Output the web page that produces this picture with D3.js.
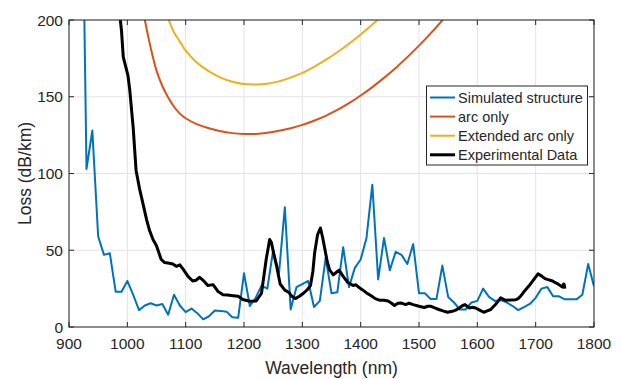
<!DOCTYPE html>
<html>
<head>
<meta charset="utf-8">
<script src="https://cdn.jsdelivr.net/npm/d3@7"></script>
<style>
  body { margin: 0; background: #fff; }
  svg { display: block; font-family: "Liberation Sans", Arial, sans-serif; }
</style>
</head>
<body>
<svg width="623" height="379"></svg>
<script>
// Simulated structure (sampled every 10 nm)
const simWl = [920, 930, 940, 950, 960, 970, 980, 990, 1000, 1010, 1020, 1030, 1040, 1050, 1060, 1070, 1080, 1090, 1100,
  1110, 1120, 1130, 1140, 1150, 1160, 1170, 1180, 1190, 1200, 1210, 1220, 1230, 1240, 1250, 1260, 1270, 1280, 1290, 1300,
  1310, 1320, 1330, 1340, 1350, 1360, 1370, 1380, 1390, 1400, 1410, 1420, 1430, 1440, 1450, 1460, 1470, 1480, 1490, 1500,
  1510, 1520, 1530, 1540, 1550, 1560, 1570, 1580, 1590, 1600, 1610, 1620, 1630, 1640, 1650, 1660, 1670, 1680, 1690, 1700,
  1710, 1720, 1730, 1740, 1750, 1760, 1770, 1780, 1790, 1800];
const simLoss = [370, 103, 128, 59, 47, 48, 23, 23, 30, 21, 11, 14, 15.5, 14, 15, 8, 21, 14, 9.7,
  12, 9, 5, 7, 10.8, 10.5, 10, 6.3, 6, 35, 13.7, 19, 27, 25, 50, 35, 78, 11.4, 26, 28,
  30, 13, 17, 45, 22, 22.6, 52, 26, 38.5, 44, 58, 92.7, 31, 58, 37, 49, 47, 41, 54, 22,
  22, 18.3, 18.3, 40, 19.6, 16, 11.4, 11.4, 16, 17, 25, 19.6, 17, 17.5, 16, 13.8, 11, 13, 15, 19,
  25, 26, 20, 20, 18, 18, 18, 21, 41, 26.5];

// arc only
const arcWl = [1010, 1020, 1030, 1040, 1050, 1060, 1070, 1080, 1090, 1100, 1120, 1140, 1160, 1180, 1200, 1220, 1240,
  1260, 1280, 1300, 1320, 1340, 1360, 1380, 1400, 1420, 1440, 1460, 1480, 1500, 1520, 1540, 1560];
const arcLoss = [250, 222, 200, 182, 167, 157, 149.5, 143.5, 139, 136, 132, 129.5, 127.5, 126.3, 125.8, 125.8, 126.5,
  127.8, 129.5, 131.7, 134.4, 137.6, 141.4, 145.8, 150.8, 156.3, 162.3, 168.8, 175.8, 183.3, 191.3, 199.8, 208.8];

// Extended arc only
const extWl = [1050, 1060, 1070, 1080, 1090, 1100, 1120, 1140, 1160, 1180, 1200, 1220, 1240, 1260, 1280, 1300,
  1320, 1340, 1360, 1380, 1400, 1420, 1440];
const extLoss = [232, 214, 201, 192, 186, 180, 172, 166.5, 162.5, 159.8, 158.3, 158, 158.5, 160, 162.5, 165.5,
  169.5, 174, 179, 184.5, 190.5, 197, 204];

// Experimental Data
const expWl = [986, 988, 990, 993, 1001, 1004, 1010, 1015, 1021, 1027, 1033, 1038, 1044, 1050, 1058, 1064, 1072,
  1078, 1084, 1090, 1095, 1104, 1112, 1118, 1124, 1130, 1138, 1147, 1155, 1164, 1172, 1181, 1190, 1198, 1210,
  1221, 1230, 1238, 1244, 1247, 1252, 1256, 1262, 1270, 1277, 1282, 1288, 1295, 1302, 1309, 1314, 1318, 1321,
  1326, 1331, 1335, 1338, 1343, 1347, 1353, 1358, 1363, 1370, 1378, 1387, 1392, 1398, 1404, 1410, 1418, 1425,
  1433, 1440, 1447, 1453, 1458, 1464, 1469, 1477, 1483, 1490, 1500, 1509, 1515, 1520, 1527, 1534, 1541, 1549,
  1557, 1563, 1569, 1575, 1579, 1586, 1591, 1597, 1604, 1611, 1617, 1623, 1631, 1636, 1640, 1645, 1649, 1658,
  1666, 1670, 1674, 1681, 1689, 1697, 1704, 1711, 1716, 1720, 1729, 1733, 1737, 1742, 1746, 1748, 1749, 1750];
const expLoss = [215, 200, 193, 176, 164, 155, 130, 102, 90, 80, 70, 63, 57, 53, 44, 42, 41.5,
  41, 39.5, 40.5, 38, 33, 30, 30.5, 32.4, 30.4, 27, 27.6, 23.3, 21, 20.8, 20.4, 20, 17.9, 16.8,
  17, 22, 44, 57, 55, 46, 39.5, 28, 24, 22.5, 20, 18.5, 20, 22, 24.5, 27, 36, 48,
  60, 64.5, 58, 52, 42, 37, 34, 35.5, 37, 33, 29, 27, 27.5, 25.5, 24, 22.2, 20.4, 18.5,
  17.4, 17.4, 16.9, 15.5, 14, 15.5, 15.7, 14.6, 15.5, 14.6, 13.5, 12.7, 13.5, 13.5, 12.5, 11.4, 10.5, 9.6,
  10.2, 11, 12.4, 14, 14.6, 12.4, 12.8, 12.4, 11, 9.6, 10.5, 11.4, 14.6, 17, 19, 18, 17.4, 17.6,
  17.8, 18.5, 20, 23.5, 27, 31, 34.6, 33, 31.5, 31, 30, 29, 28.3, 27, 26, 28, 27.6, 25];

const xTicks = [900, 1000, 1100, 1200, 1300, 1400, 1500, 1600, 1700, 1800];
const yTicks = [0, 50, 100, 150, 200];

const seriesNames = ["Simulated structure", "arc only", "Extended arc only", "Experimental Data"];
const seriesColors = ["#0072BD", "#D95319", "#EDB120", "#000000"];
const seriesWidths = [2, 2, 2, 3];

const margin = { top: 20, right: 29, bottom: 52, left: 69 };
const width = 623, height = 379;
const axisColor = "#262626";

const svg = d3.select("svg");

const x = d3.scaleLinear().domain([900, 1800]).range([margin.left, width - margin.right]);
const y = d3.scaleLinear().domain([0, 200]).range([height - margin.bottom, margin.top]);

const x0 = margin.left, x1 = width - margin.right;
const y0 = height - margin.bottom, y1 = margin.top;

// grid
const grid = svg.append("g").attr("stroke", "#e3e3e3").attr("stroke-width", 1);
grid.selectAll(".gx").data(xTicks).enter().append("line")
  .attr("x1", d => x(d)).attr("x2", d => x(d)).attr("y1", y0).attr("y2", y1);
grid.selectAll(".gy").data(yTicks).enter().append("line")
  .attr("x1", x0).attr("x2", x1).attr("y1", d => y(d)).attr("y2", d => y(d));

// data lines
svg.append("defs").append("clipPath").attr("id", "clip")
  .append("rect").attr("x", x0).attr("y", y1).attr("width", x1 - x0).attr("height", y0 - y1);

const plot = svg.append("g").attr("clip-path", "url(#clip)");
const line = d3.line().x(d => x(d[0])).y(d => y(d[1]));

const series = [
  d3.zip(simWl, simLoss),
  d3.zip(arcWl, arcLoss),
  d3.zip(extWl, extLoss),
  d3.zip(expWl, expLoss)
];
const smooth = d3.line().x(d => x(d[0])).y(d => y(d[1])).curve(d3.curveCatmullRom);

series.forEach((s, i) => {
  plot.append("path")
    .datum(s)
    .attr("fill", "none")
    .attr("stroke", seriesColors[i])
    .attr("stroke-width", seriesWidths[i])
    .attr("stroke-linejoin", "round")
    .attr("d", (i === 1 || i === 2) ? smooth : line);
});

// axes (MATLAB style box with inward ticks)
const tickLen = 5;
const axes = svg.append("g").attr("fill", "none").attr("stroke", axisColor).attr("stroke-width", 1);
axes.append("rect").attr("x", x0).attr("y", y1).attr("width", x1 - x0).attr("height", y0 - y1);
xTicks.forEach(t => {
  axes.append("line").attr("x1", x(t)).attr("x2", x(t)).attr("y1", y0).attr("y2", y0 - tickLen);
  axes.append("line").attr("x1", x(t)).attr("x2", x(t)).attr("y1", y1).attr("y2", y1 + tickLen);
});
yTicks.forEach(t => {
  axes.append("line").attr("x1", x0).attr("x2", x0 + tickLen).attr("y1", y(t)).attr("y2", y(t));
  axes.append("line").attr("x1", x1).attr("x2", x1 - tickLen).attr("y1", y(t)).attr("y2", y(t));
});

svg.append("g").selectAll("text").data(xTicks).enter().append("text")
  .attr("x", d => x(d)).attr("y", y0 + 22)
  .attr("text-anchor", "middle")
  .attr("font-size", 15.5).attr("fill", axisColor)
  .text(d => d);

svg.append("g").selectAll("text").data(yTicks).enter().append("text")
  .attr("x", x0 - 6).attr("y", d => y(d) + 5.5)
  .attr("text-anchor", "end")
  .attr("font-size", 15.5).attr("fill", axisColor)
  .text(d => d);

svg.append("text")
  .attr("x", (x0 + x1) / 2).attr("y", 374)
  .attr("text-anchor", "middle")
  .attr("font-size", 17.5).attr("fill", axisColor)
  .text("Wavelength (nm)");

svg.append("text")
  .attr("transform", `translate(31,${(y0 + y1) / 2}) rotate(-90)`)
  .attr("text-anchor", "middle")
  .attr("font-size", 17.5).attr("fill", axisColor)
  .text("Loss (dB/km)");

// legend
const legend = svg.append("g");
legend.append("rect")
  .attr("x", 426.5).attr("y", 86).attr("width", 161).attr("height", 79)
  .attr("fill", "#fff").attr("stroke", axisColor).attr("stroke-width", 1);
seriesNames.forEach((name, i) => {
  const ly = 97.5 + i * 19.1;
  legend.append("line")
    .attr("x1", 430).attr("x2", 455).attr("y1", ly).attr("y2", ly)
    .attr("stroke", seriesColors[i]).attr("stroke-width", seriesWidths[i]);
  legend.append("text")
    .attr("x", 458).attr("y", ly + 5)
    .attr("font-size", 14.5).attr("fill", axisColor)
    .text(name);
});
</script>
</body>
</html>
